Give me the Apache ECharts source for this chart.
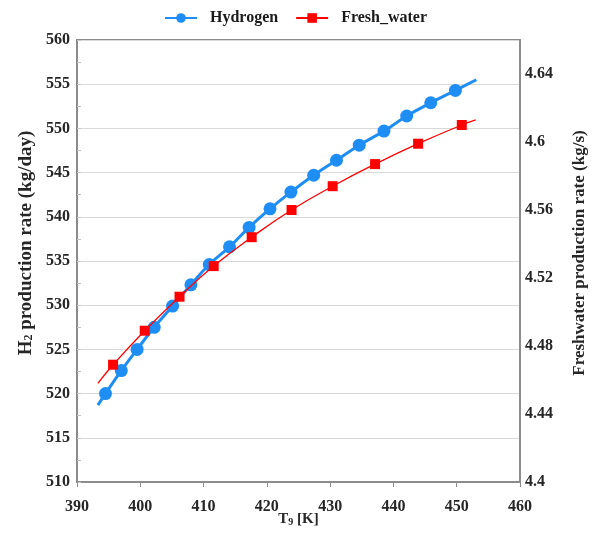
<!DOCTYPE html>
<html>
<head>
<meta charset="utf-8">
<script src="https://cdn.jsdelivr.net/npm/echarts@6/dist/echarts.min.js"></script>
<style>html,body{margin:0;padding:0;background:#fff}#c{width:597px;height:543px}</style>
</head>
<body>
<div id="c"></div>
<script>
// Hydrogen markers
var h2T = [394.5, 397.0, 399.5, 402.2, 405.1, 408.0, 410.9, 414.1, 417.2, 420.5, 423.8, 427.4, 431.0, 434.6, 438.5, 442.1, 445.9, 449.8];
var h2Rate = [520.0, 522.6, 525.0, 527.5, 529.9, 532.3, 534.6, 536.6, 538.8, 540.9, 542.8, 544.7, 546.4, 548.1, 549.7, 551.4, 552.9, 554.3];
// Hydrogen curve ends (line extends past markers)
var h2LineStart = [393.3, 518.7];
var h2LineEnd = [453.1, 555.5];
// Fresh water markers
var fwT = [395.7, 400.7, 406.2, 411.6, 417.6, 423.9, 430.4, 437.1, 443.9, 450.8];
var fwRate = [4.469, 4.489, 4.509, 4.527, 4.544, 4.560, 4.574, 4.587, 4.599, 4.610];
var fwLineStart = [393.3, 4.458];
var fwLineEnd = [453.0, 4.613];

var xTicks = [390, 460, 10];
var leftTicks = [510, 560, 5];
var rightTicks = [4.4, 4.66, 0.04];

function buildData(start, xs, ys, end) {
  var d = [{value: start, symbol: 'none'}];
  for (var i = 0; i < xs.length; i++) d.push([xs[i], ys[i]]);
  d.push({value: end, symbol: 'none'});
  return d;
}

var font = '"Liberation Serif", "Times New Roman", serif';
var axisGrey = '#8c8c8c';
var lblStyle = {fontFamily: font, fontWeight: 'bold', fontSize: 16, color: '#262626'};

var chart = echarts.init(document.getElementById('c'));
chart.setOption({
  animation: false,
  backgroundColor: '#fff',
  legend: {
    top: 5,
    left: 159,
    itemWidth: 32,
    itemHeight: 12,
    itemGap: 17,
    textStyle: {fontFamily: font, fontWeight: 'bold', fontSize: 16, color: '#1a1a1a', padding: [0, 0, 0, 8]},
    data: ['Hydrogen', 'Fresh_water']
  },
  grid: {left: 77, right: 77, top: 40, bottom: 61, show: true, borderColor: axisGrey, borderWidth: 2, containLabel: false},
  xAxis: {
    type: 'value', min: xTicks[0], max: xTicks[1], interval: xTicks[2],
    name: '{b|T}{s|9}{b| [K]}',
    nameLocation: 'middle', nameGap: 29, nameMoveOverlap: false,
    nameTextStyle: {rich: {
      b: {fontFamily: font, fontWeight: 'bold', fontSize: 15, color: '#262626'},
      s: {fontFamily: font, fontWeight: 'bold', fontSize: 10, color: '#262626', verticalAlign: 'bottom', padding: [6, 0, 0, 0]}
    }},
    axisLine: {lineStyle: {color: axisGrey, width: 2}},
    axisTick: {show: true, inside: false, length: 5, lineStyle: {color: axisGrey}},
    axisLabel: Object.assign({margin: 17}, lblStyle),
    splitLine: {show: false}
  },
  yAxis: [{
    type: 'value', position: 'left', min: leftTicks[0], max: leftTicks[1], interval: leftTicks[2],
    name: '{b|H}{s|2}{b| production rate (kg/day)}',
    nameLocation: 'middle', nameGap: 41, nameRotate: 90,
    nameTextStyle: {padding: [0, 0, 0, 36], rich: {
      b: {fontFamily: font, fontWeight: 'bold', fontSize: 19, color: '#262626'},
      s: {fontFamily: font, fontWeight: 'bold', fontSize: 12, color: '#262626', verticalAlign: 'bottom', padding: [7, 0, 0, 0]}
    }},
    axisLine: {show: true, lineStyle: {color: axisGrey, width: 2}},
    axisTick: {show: true, inside: true, length: 4, lineStyle: {color: '#c8c8c8'}},
    minorTick: {show: true, splitNumber: 2, length: 4, lineStyle: {color: '#bfbfbf'}},
    axisLabel: Object.assign({margin: 7}, lblStyle),
    splitLine: {show: true, lineStyle: {color: '#d9d9d9', width: 1}}
  }, {
    type: 'value', position: 'right', min: rightTicks[0], max: rightTicks[1], interval: rightTicks[2],
    name: 'Freshwater production rate (kg/s)',
    nameLocation: 'middle', nameGap: 51, nameRotate: 90,
    nameTextStyle: {fontFamily: font, fontWeight: 'bold', fontSize: 17, color: '#262626', padding: [0, 0, 0, 16]},
    axisLine: {show: true, lineStyle: {color: axisGrey, width: 2}},
    axisTick: {show: false},
    axisLabel: Object.assign({margin: 5, showMaxLabel: false, formatter: function (v) {
      return Math.abs(v - 4.66) < 1e-6 ? '' : String(+v.toFixed(2));
    }}, lblStyle),
    splitLine: {show: false}
  }],
  series: [{
    name: 'Hydrogen', type: 'line', yAxisIndex: 0, smooth: true,
    symbol: 'circle', symbolSize: 13, showAllSymbol: true,
    itemStyle: {color: '#1E8EF5'},
    lineStyle: {color: '#1E8EF5', width: 3},
    data: buildData(h2LineStart, h2T, h2Rate, h2LineEnd),
    z: 3
  }, {
    name: 'Fresh_water', type: 'line', yAxisIndex: 1, smooth: true,
    symbol: 'rect', symbolSize: 10, showAllSymbol: true,
    itemStyle: {color: '#FF0000'},
    lineStyle: {color: '#FF0000', width: 1.3},
    data: buildData(fwLineStart, fwT, fwRate, fwLineEnd),
    z: 4
  }]
});
</script>
</body>
</html>
